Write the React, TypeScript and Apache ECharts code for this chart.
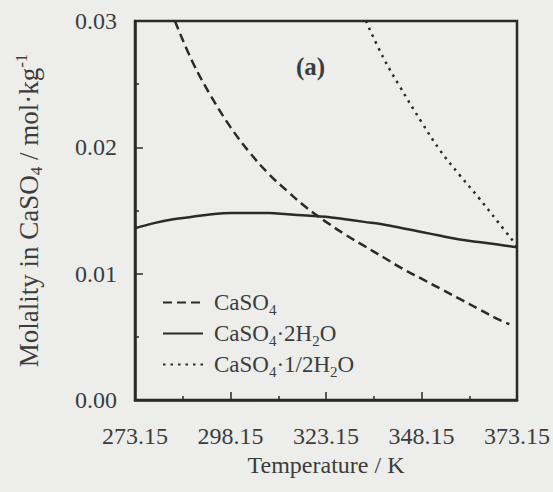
import React, { useEffect, useRef } from "react";
import * as echarts from "echarts";

// Temperature (K) and molality (mol/kg)
const anhydriteT = [283.6, 288.15, 293.15, 298.15, 303.15, 308.15, 313.15, 318.15, 323.15, 328.15, 333.15, 338.15, 343.15, 348.15, 353.15, 358.15, 363.15, 368.15, 371.15];
const anhydriteM = [0.03, 0.0268, 0.024, 0.0216, 0.0196, 0.0179, 0.0165, 0.0152, 0.0141, 0.0131, 0.0122, 0.0113, 0.0104, 0.0096, 0.0088, 0.008, 0.0072, 0.0064, 0.006];

const gypsumT = [273.15, 278.15, 283.15, 288.15, 293.15, 298.15, 303.15, 308.15, 313.15, 318.15, 323.15, 328.15, 333.15, 338.15, 343.15, 348.15, 353.15, 358.15, 363.15, 368.15, 373.15];
const gypsumM = [0.0136, 0.014, 0.0143, 0.0145, 0.0147, 0.0148, 0.0148, 0.0148, 0.0147, 0.0146, 0.0145, 0.0143, 0.0141, 0.0139, 0.0136, 0.0133, 0.013, 0.0127, 0.0125, 0.0123, 0.0121];

const hemiT = [333.6, 338.15, 342.3, 348.15, 353.15, 358.15, 363.15, 368.15, 373.15];
const hemiM = [0.03, 0.0271, 0.0249, 0.022, 0.0197, 0.0178, 0.016, 0.0141, 0.0122];

const seriesNames = ["CaSO4", "CaSO4·2H2O", "CaSO4·1/2H2O"];
const richNames: Record<string, string> = {
  "CaSO4": "{n|CaSO}{s|4}",
  "CaSO4·2H2O": "{n|CaSO}{s|4}{n|·2H}{s|2}{n|O}",
  "CaSO4·1/2H2O": "{n|CaSO}{s|4}{n|·1/2H}{s|2}{n|O}",
};

const T0 = 273.15; // axis origin
const xTickStep = 25;
const yMax = 0.03;
const yStep = 0.01;

const FONT = "'Liberation Serif', 'DejaVu Serif', serif";
const INK = "#2a2a2a";
const TXT = "#3c3c3c";

const toPairs = (t: number[], m: number[]) => t.map((v, i) => [v - T0, m[i]]);

export default function App() {
  const ref = useRef<HTMLDivElement>(null);
  useEffect(() => {
    if (!ref.current) return;
    const chart = echarts.init(ref.current, null, { renderer: "svg" });
    const axisCommon = {
      axisLine: { show: true, lineStyle: { color: INK, width: 2.5 } },
      axisTick: { show: true, inside: true, length: 8, lineStyle: { color: INK, width: 1.5 } },
      minorTick: { show: true, splitNumber: 2, length: 4, lineStyle: { color: INK, width: 1.5 } },
      splitLine: { show: false },
    };
    chart.setOption({
      animation: false,
      backgroundColor: "#ededeb",
      title: {
        text: "(a)",
        left: 291,
        top: 49,
        textStyle: { fontFamily: FONT, fontSize: 25, fontWeight: "bold", color: TXT },
      },
      grid: {
        left: 135,
        right: 35,
        top: 21,
        bottom: 92,
        show: true,
        borderColor: INK,
        borderWidth: 2.5,
        backgroundColor: "transparent",
      },
      legend: {
        orient: "vertical",
        left: 157,
        top: 286,
        itemWidth: 40,
        itemHeight: 14,
        itemGap: 5,
        data: seriesNames,
        itemStyle: { opacity: 0 },
        formatter: (name: string) => richNames[name] || name,
        textStyle: {
          color: TXT,
          fontFamily: FONT,
          fontSize: 23,
          padding: [0, 0, 0, 6],
          rich: {
            n: { fontFamily: FONT, fontSize: 23, color: TXT },
            s: { fontFamily: FONT, fontSize: 15, color: TXT, padding: [14, 0, 0, 0] },
          },
        },
      },
      xAxis: {
        type: "value",
        min: 0,
        max: 100,
        interval: xTickStep,
        ...axisCommon,
        axisLabel: {
          margin: 24,
          color: TXT,
          fontFamily: FONT,
          fontSize: 24,
          formatter: (v: number) => (v + T0).toFixed(2),
        },
        name: "Temperature / K",
        nameLocation: "middle",
        nameGap: 47,
        nameTextStyle: { color: TXT, fontFamily: FONT, fontSize: 24 },
      },
      yAxis: {
        type: "value",
        min: 0,
        max: yMax,
        interval: yStep,
        ...axisCommon,
        axisLabel: {
          margin: 18,
          color: TXT,
          fontFamily: FONT,
          fontSize: 24,
          padding: [12, 0, 0, 0],
          formatter: (v: number) => v.toFixed(2),
        },
        name: "{n|Molality in CaSO}{s|4}{n| / mol·kg}{p|-1}",
        nameLocation: "middle",
        nameGap: 90,
        nameTextStyle: {
          color: TXT,
          fontFamily: FONT,
          fontSize: 27,
          rich: {
            n: { fontFamily: FONT, fontSize: 27, color: TXT },
            s: { fontFamily: FONT, fontSize: 17, color: TXT, padding: [15, 0, 0, 0] },
            p: { fontFamily: FONT, fontSize: 17, color: TXT, padding: [0, 0, 15, 0] },
          },
        },
      },
      series: [
        {
          name: seriesNames[0],
          type: "line",
          data: toPairs(anhydriteT, anhydriteM),
          symbol: "none",
          smooth: 0.4,
          lineStyle: { color: INK, width: 2.5, type: [9, 5] },
          itemStyle: { color: INK },
        },
        {
          name: seriesNames[1],
          type: "line",
          data: toPairs(gypsumT, gypsumM),
          symbol: "none",
          smooth: 0.4,
          lineStyle: { color: INK, width: 2.5, type: "solid" },
          itemStyle: { color: INK },
        },
        {
          name: seriesNames[2],
          type: "line",
          data: toPairs(hemiT, hemiM),
          symbol: "none",
          smooth: 0.4,
          lineStyle: { color: INK, width: 2.5, type: [2.5, 5] },
          itemStyle: { color: INK },
        },
      ],
    });
    return () => chart.dispose();
  }, []);
  return (
    <div
      ref={ref}
      style={{ position: "fixed", left: 0, top: 0, width: 553, height: 492 }}
    />
  );
}
